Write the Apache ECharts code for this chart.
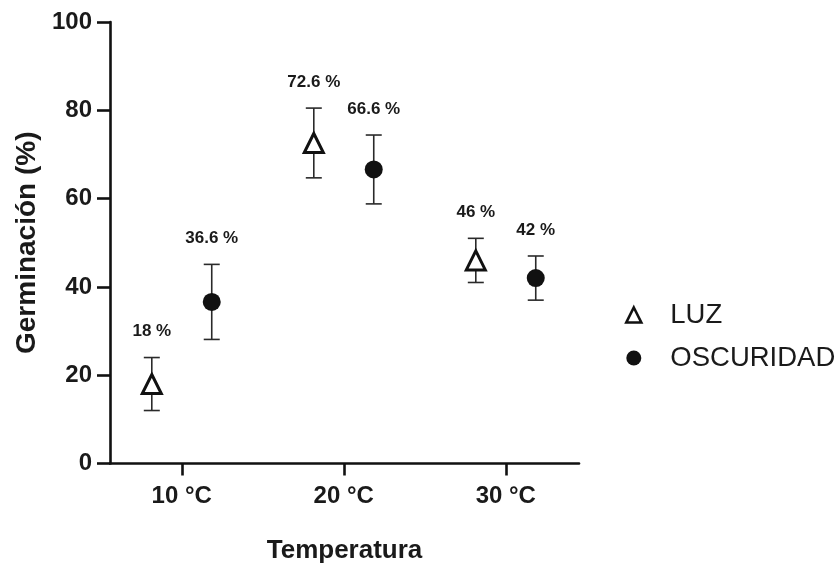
<!DOCTYPE html>
<html><head><meta charset="utf-8">
<script src="https://cdn.jsdelivr.net/npm/echarts@6/dist/echarts.min.js"></script>
<style>html,body{margin:0;padding:0;background:#fff}#c{width:840px;height:563px}</style>
</head><body><div id="c"></div>
<script>
const categories = ['10 °C', '20 °C', '30 °C'];
const seriesNames = ['LUZ', 'OSCURIDAD'];
const luzValues = [18, 72.6, 46];
const luzErr = [6, 7.9, 5];
const oscValues = [36.6, 66.6, 42];
const oscErr = [8.5, 7.8, 5];
const luzLabels = ['18 %', '72.6 %', '46 %'];
const oscLabels = ['36.6 %', '66.6 %', '42 %'];
const yTicks = [0, 20, 40, 60, 80, 100];

const FONT = 'Liberation Sans, Arial, sans-serif';
const TXT = '#1a1a1a';
const OFF = 0.185;

function pts(vals, off) { return vals.map((v, i) => [i + 1 + off, v]); }
function errData(vals, errs, labels, off) {
  return vals.map((v, i) => [i + 1 + off, v - errs[i], v + errs[i], labels[i]]);
}
function renderErr(params, api) {
  const x = api.value(0);
  const lo = api.coord([x, api.value(1)]);
  const hi = api.coord([x, api.value(2)]);
  const cap = 8;
  const st = { stroke: '#2a2a2a', lineWidth: 1.6 };
  return {
    type: 'group',
    children: [
      { type: 'line', shape: { x1: lo[0], y1: lo[1], x2: hi[0], y2: hi[1] }, style: st },
      { type: 'line', shape: { x1: lo[0] - cap, y1: lo[1], x2: lo[0] + cap, y2: lo[1] }, style: st },
      { type: 'line', shape: { x1: hi[0] - cap, y1: hi[1], x2: hi[0] + cap, y2: hi[1] }, style: st },
      { type: 'text', x: hi[0], y: hi[1] - 26, style: { text: api.value(3), fill: TXT, font: 'bold 17px ' + FONT, align: 'center', verticalAlign: 'middle' } }
    ]
  };
}

const chart = echarts.init(document.getElementById('c'));
chart.setOption({
  animation: false,
  backgroundColor: '#fff',
  grid: { left: 110, right: 261, top: 22, bottom: 99.5, containLabel: false, outerBoundsMode: 'none' },
  xAxis: {
    type: 'value', min: 0.557, max: 3.452,
    name: 'Temperatura', nameLocation: 'middle', nameGap: 74,
    nameTextStyle: { fontFamily: FONT, fontWeight: 'bold', fontSize: 26, color: TXT },
    axisLine: { lineStyle: { color: '#111', width: 2.6 } },
    axisTick: { show: true, length: 12, lineStyle: { color: '#111', width: 2.6 }, customValues: [1, 2, 3] },
    axisLabel: { customValues: [1, 2, 3], formatter: v => categories[Math.round(v) - 1] || '', margin: 21,
      fontFamily: FONT, fontWeight: 'bold', fontSize: 24, color: TXT },
    splitLine: { show: false }
  },
  yAxis: {
    type: 'value', min: yTicks[0], max: yTicks[yTicks.length - 1], interval: 20,
    name: 'Germinación (%)', nameLocation: 'middle', nameGap: 68, nameRotate: 90,
    nameTextStyle: { fontFamily: FONT, fontWeight: 'bold', fontSize: 28, color: TXT },
    axisLine: { show: true, lineStyle: { color: '#111', width: 2.6 } },
    axisTick: { show: true, length: 13, lineStyle: { color: '#111', width: 2.6 } },
    axisLabel: { margin: 18, fontFamily: FONT, fontWeight: 'bold', fontSize: 24, color: TXT },
    splitLine: { show: false }
  },
  legend: {
    orient: 'vertical', left: 620, top: 296, itemGap: 15, itemWidth: 15, itemHeight: 15,
    textStyle: { fontFamily: FONT, fontSize: 27.5, color: TXT, lineHeight: 27, padding: [0, 0, 0, 24] },
    data: [
      { name: seriesNames[0], icon: 'triangle', itemStyle: { color: '#fff', borderColor: '#111', borderWidth: 2.6 } },
      { name: seriesNames[1], icon: 'circle', itemStyle: { color: '#111' } }
    ]
  },
  series: [
    { type: 'custom', renderItem: renderErr, data: errData(luzValues, luzErr, luzLabels, -OFF), z: 1, silent: true },
    { type: 'custom', renderItem: renderErr, data: errData(oscValues, oscErr, oscLabels, OFF), z: 1, silent: true },
    { name: seriesNames[0], type: 'scatter', symbol: 'triangle', symbolSize: 19, z: 3,
      itemStyle: { color: '#fff', borderColor: '#111', borderWidth: 3, opacity: 1 }, data: pts(luzValues, -OFF) },
    { name: seriesNames[1], type: 'scatter', symbol: 'circle', symbolSize: 18, z: 3,
      itemStyle: { color: '#111', opacity: 1 }, data: pts(oscValues, OFF) }
  ]
});
</script></body></html>
